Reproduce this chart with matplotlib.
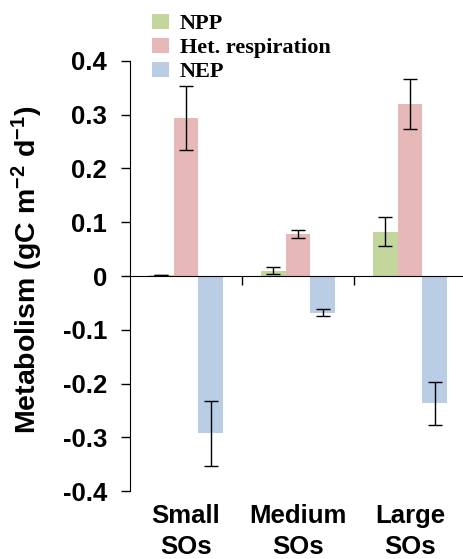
import matplotlib
matplotlib.use("Agg")
import matplotlib.pyplot as plt
import matplotlib.transforms as mtransforms
import numpy as np

# data
categories = ["Small\nSOs", "Medium\nSOs", "Large\nSOs"]
series = ["NPP", "Het. respiration", "NEP"]
npp = [0.001, 0.010, 0.082]
npp_err = [0.0, 0.006, 0.027]
het = [0.294, 0.078, 0.320]
het_err = [0.060, 0.007, 0.046]
nep = [-0.293, -0.068, -0.237]
nep_err = [0.060, 0.007, 0.040]
yticks = [0.4, 0.3, 0.2, 0.1, 0, -0.1, -0.2, -0.3, -0.4]
ytick_labels = ["0.4", "0.3", "0.2", "0.1", "0", "-0.1", "-0.2", "-0.3", "-0.4"]

colors = ["#c3d69b", "#e6b9b8", "#b9cde5"]

plt.rcParams["font.family"] = "Liberation Sans"
plt.rcParams["font.weight"] = "bold"
plt.rcParams["mathtext.default"] = "regular"

fig = plt.figure(figsize=(4.63, 5.59), dpi=100)
ax = fig.add_axes([130 / 463, 68 / 559, 336 / 463, 430 / 559])

x = np.arange(len(categories))
w = 0.223
vals = [npp, het, nep]
errs = [npp_err, het_err, nep_err]
for i, (v, e) in enumerate(zip(vals, errs)):
    ax.bar(x + (i - 1) * w, v, width=w, color=colors[i], label=series[i],
           yerr=e, capsize=5, error_kw=dict(elinewidth=1, capthick=1, ecolor="black"))

ax.set_xlim(-0.5, 2.5)
ax.set_ylim(-0.4, 0.4)
ax.set_yticks(yticks)
ax.set_yticklabels(ytick_labels, fontweight="bold", fontsize=18.5)
ax.tick_params(axis="y", direction="out", length=6.5, width=1, pad=10)

ax.spines["top"].set_visible(False)
ax.spines["right"].set_visible(False)
ax.spines["bottom"].set_position(("data", 0))
ax.set_xticks([0.5, 1.5])
ax.set_xticklabels([])
ax.tick_params(axis="x", direction="out", length=6.5, width=1)

trans = mtransforms.blended_transform_factory(ax.transData, ax.transAxes)
for xi, lab in zip(x, categories):
    ax.text(xi, -0.03, lab, transform=trans, ha="center", va="top",
            fontweight="bold", fontsize=18.5, linespacing=1.35)

fig.text(27 / 463, 1 - 270 / 559, "Metabolism (gC m$^{-2}$ d$^{-1}$)",
         rotation=90, ha="center", va="center", fontweight="bold", fontsize=20.5)

leg = fig.legend(loc="upper left", bbox_to_anchor=(143 / 463, 1 - 5 / 559), frameon=False,
                 prop=dict(family="Liberation Serif", weight="bold", size=16),
                 handlelength=0.75, handleheight=0.7, handletextpad=0.5, labelspacing=0.15,
                 borderaxespad=0)

fig.savefig("out.png", dpi=100)
